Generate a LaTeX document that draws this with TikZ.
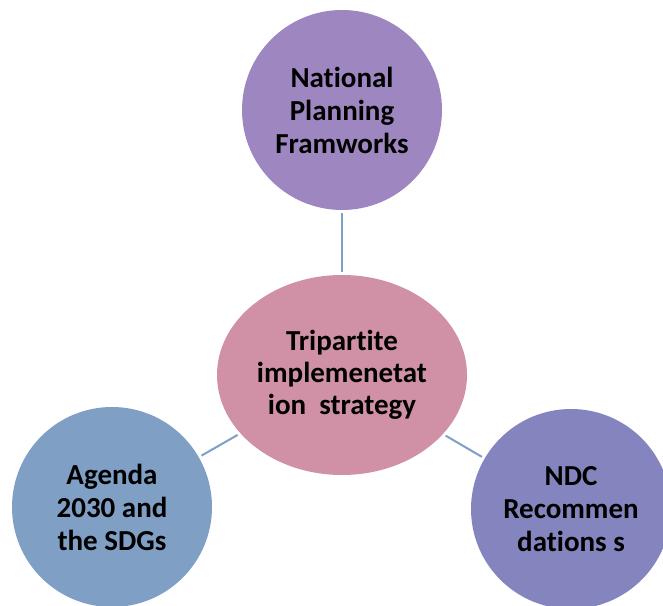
\documentclass[tikz,border=0pt]{standalone}
\usepackage{fontspec}
\setmainfont{Carlito}[Ligatures=NoCommon]
\usepackage{tikz}
\usetikzlibrary{shapes.geometric}
\definecolor{planpurple}{RGB}{158,134,192}
\definecolor{corepink}{RGB}{208,144,165}
\definecolor{sdgblue}{RGB}{127,159,196}
\definecolor{ndcviolet}{RGB}{132,133,191}
\definecolor{linkblue}{RGB}{124,160,200}
\tikzset{
x=1pt, y=1pt,
bubble/.style={circle,minimum size=200pt,inner sep=0pt,align=center,
  font=\bfseries\fontsize{29}{33}\selectfont},
core/.style={ellipse,minimum width=250pt,minimum height=200pt,inner sep=0pt,
  align=center,fill=corepink,font=\bfseries\fontsize{29}{32}\selectfont},
link/.style={draw=linkblue,line width=2pt,shorten >=3pt,shorten <=3pt},
}

\begin{document}
\begin{tikzpicture}
\useasboundingbox (0,0) rectangle (663,605);
\node[core] (strategy) at (342,230) {Tripartite\\implemenetat\\ion\ \ strategy};
\node[bubble,fill=planpurple] (plan) at (342,495) {National\\Planning\\Framworks};
\node[bubble,fill=sdgblue] (sdg) at (112,98) {Agenda\\2030 and\\the SDGs};
\node[bubble,fill=ndcviolet] (ndc) at (571,96) {NDC\\Recommen\\dations s};
\draw[link] (strategy) -- (plan);
\draw[link] (strategy) -- (sdg);
\draw[link] (strategy) -- (ndc);
\end{tikzpicture}
\end{document}
